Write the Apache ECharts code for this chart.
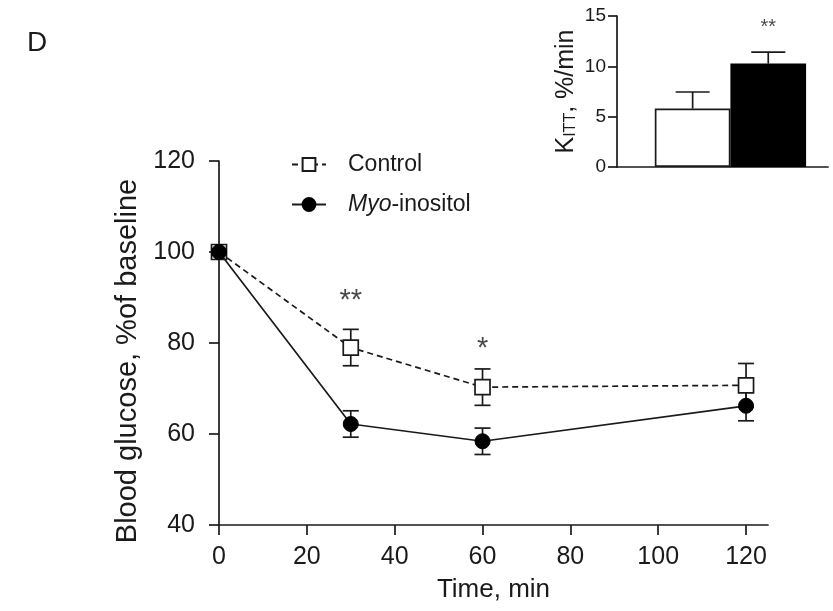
<!DOCTYPE html>
<html>
<head>
<meta charset="utf-8">
<script src="https://cdn.jsdelivr.net/npm/echarts@6/dist/echarts.min.js"></script>
<style>
  html, body { margin: 0; padding: 0; background: #fff; }
  #chart { width: 833px; height: 611px; }
</style>
</head>
<body>
<div id="chart"></div>
<script>
// main panel: blood glucose during ITT
const timePoints = [0, 30, 60, 120];
const controlMean = [100, 79.0, 70.3, 70.7];
const controlSem = [0, 4.0, 4.0, 4.8];
const myoMean = [100, 62.2, 58.4, 66.2];
const myoSem = [0, 2.9, 2.9, 3.3];
const xTicks = [0, 20, 40, 60, 80, 100, 120];
const sigTimes = [30, 60];
const sigY = [89.2, 78.6];
const sigText = ['**', '*'];

// inset: K_ITT
const kittGroups = ['Control', 'Myo-inositol'];
const kittMean = [5.8, 10.27];
const kittSem = [1.65, 1.15];
const kittSig = ['', '**'];

const FONT = 'Liberation Sans';
const INK = '#1a1a1a';

function errorBar(capW, upOnly) {
  return function (params, api) {
    const x = api.value(0);
    const lo = api.coord([x, api.value(1)]);
    const hi = api.coord([x, api.value(2)]);
    if (Math.abs(lo[1] - hi[1]) < 0.5) return null;
    const h = capW / 2;
    const st = { stroke: INK, lineWidth: 1.7 };
    const kids = [
      { type: 'line', shape: { x1: lo[0], y1: lo[1], x2: hi[0], y2: hi[1] }, style: st },
      { type: 'line', shape: { x1: hi[0] - h, y1: hi[1], x2: hi[0] + h, y2: hi[1] }, style: st }
    ];
    if (!upOnly) {
      kids.push({ type: 'line', shape: { x1: lo[0] - h, y1: lo[1], x2: lo[0] + h, y2: lo[1] }, style: st });
    }
    return { type: 'group', children: kids };
  };
}

const chart = echarts.init(document.getElementById('chart'));

const option = {
  animation: false,
  backgroundColor: '#fff',
  textStyle: { fontFamily: FONT, color: INK },
  graphic: [
    { type: 'text', left: 27, top: 29, style: { text: 'D', font: '28px "Liberation Sans"', fill: INK } }
  ],
  legend: {
    orient: 'vertical',
    left: 286,
    top: 148,
    itemWidth: 34,
    itemHeight: 16,
    itemGap: 17,
    data: ['Control', 'Myo-inositol'],
    formatter: function (name) {
      return name === 'Myo-inositol' ? '{i|Myo}-inositol' : name;
    },
    textStyle: {
      fontFamily: FONT, fontSize: 23, color: INK, padding: [0, 0, 0, 17],
      rich: { i: { fontStyle: 'italic', fontFamily: FONT, fontSize: 23, color: INK } }
    }
  },
  grid: [
    { left: 219, top: 161, right: 65, bottom: 86 },
    { left: 617, top: 16, width: 211, height: 151 }
  ],
  xAxis: [
    {
      gridIndex: 0, type: 'value', min: 0, max: 125,
      name: 'Time, min', nameLocation: 'middle', nameGap: 52,
      nameTextStyle: { fontFamily: FONT, fontSize: 26, color: INK },
      axisLine: { lineStyle: { color: INK, width: 1.7 } },
      axisTick: { length: 10, lineStyle: { color: INK, width: 1.7 }, customValues: xTicks },
      axisLabel: { fontFamily: FONT, fontSize: 25, color: INK, margin: 20, customValues: xTicks },
      splitLine: { show: false }
    },
    {
      gridIndex: 1, type: 'value', min: 0, max: 2.79,
      axisLine: { lineStyle: { color: INK, width: 1.7 } },
      axisTick: { show: false }, axisLabel: { show: false }, splitLine: { show: false }
    }
  ],
  yAxis: [
    {
      gridIndex: 0, type: 'value', min: 40, max: 120, interval: 20,
      name: 'Blood glucose, %of baseline', nameLocation: 'middle', nameGap: 76, nameRotate: 90,
      nameTextStyle: { fontFamily: FONT, fontSize: 29, color: INK, padding: [0, 36, 0, 0] },
      axisLine: { show: true, lineStyle: { color: INK, width: 1.7 } },
      axisTick: { show: true, length: 10, lineStyle: { color: INK, width: 1.7 } },
      axisLabel: { fontFamily: FONT, fontSize: 25, color: INK, margin: 24 },
      splitLine: { show: false }
    },
    {
      gridIndex: 1, type: 'value', min: 0, max: 15, interval: 5,
      name: '{k|K}{s|ITT}{k|, %/min}', nameLocation: 'middle', nameGap: 38, nameRotate: 90,
      nameTextStyle: {
        rich: {
          k: { fontFamily: FONT, fontSize: 25, color: INK },
          s: { fontFamily: FONT, fontSize: 16, color: INK, verticalAlign: 'bottom', padding: [10, 0, 0, 0] }
        }
      },
      axisLine: { show: true, lineStyle: { color: INK, width: 1.7 } },
      axisTick: { show: true, length: 9, lineStyle: { color: INK, width: 1.7 } },
      axisLabel: { fontFamily: FONT, fontSize: 19, color: INK, margin: 11 },
      splitLine: { show: false }
    }
  ],
  series: [
    {
      name: 'ctrlErr', type: 'custom', xAxisIndex: 0, yAxisIndex: 0, z: 1,
      renderItem: errorBar(16, false),
      data: timePoints.map((t, i) => [t, controlMean[i] - controlSem[i], controlMean[i] + controlSem[i]])
    },
    {
      name: 'myoErr', type: 'custom', xAxisIndex: 0, yAxisIndex: 0, z: 1,
      renderItem: errorBar(16, false),
      data: timePoints.map((t, i) => [t, myoMean[i] - myoSem[i], myoMean[i] + myoSem[i]])
    },
    {
      name: 'Control', type: 'line', xAxisIndex: 0, yAxisIndex: 0, z: 3,
      data: timePoints.map((t, i) => [t, controlMean[i]]),
      symbol: 'rect', symbolSize: 15, showAllSymbol: true,
      lineStyle: { color: INK, width: 1.7, type: [6, 4] },
      itemStyle: { color: '#fff', borderColor: INK, borderWidth: 1.7 }
    },
    {
      name: 'Myo-inositol', type: 'line', xAxisIndex: 0, yAxisIndex: 0, z: 4,
      data: timePoints.map((t, i) => [t, myoMean[i]]),
      symbol: 'circle', symbolSize: 15, showAllSymbol: true,
      lineStyle: { color: INK, width: 1.7 },
      itemStyle: { color: '#000', borderColor: '#000', borderWidth: 1 }
    },
    {
      name: 'sig', type: 'scatter', xAxisIndex: 0, yAxisIndex: 0, symbolSize: 0,
      data: sigTimes.map((t, i) => [t, sigY[i], sigText[i]]),
      label: {
        show: true, position: 'inside', fontFamily: FONT, fontSize: 29, color: INK,
        formatter: p => p.value[2]
      }
    },
    {
      name: 'kitt', type: 'bar', xAxisIndex: 1, yAxisIndex: 1, barWidth: 75.7,
      data: kittMean.map((v, i) => ({
        value: [i + 1, v],
        name: kittGroups[i],
        itemStyle: i === 0
          ? { color: '#fff', borderColor: INK, borderWidth: 1.7 }
          : { color: '#000', borderColor: '#000', borderWidth: 1.7 }
      }))
    },
    {
      name: 'kittErr', type: 'custom', xAxisIndex: 1, yAxisIndex: 1, z: 5,
      renderItem: errorBar(34, true),
      data: kittMean.map((v, i) => [i + 1, v, v + kittSem[i]])
    },
    {
      name: 'kittSig', type: 'scatter', xAxisIndex: 1, yAxisIndex: 1, symbolSize: 0,
      data: kittMean.map((v, i) => [i + 1, 13.9, kittSig[i]]),
      label: {
        show: true, position: 'inside', fontFamily: FONT, fontSize: 20, color: INK,
        formatter: p => p.value[2]
      }
    }
  ]
};

chart.setOption(option);
</script>
</body>
</html>
